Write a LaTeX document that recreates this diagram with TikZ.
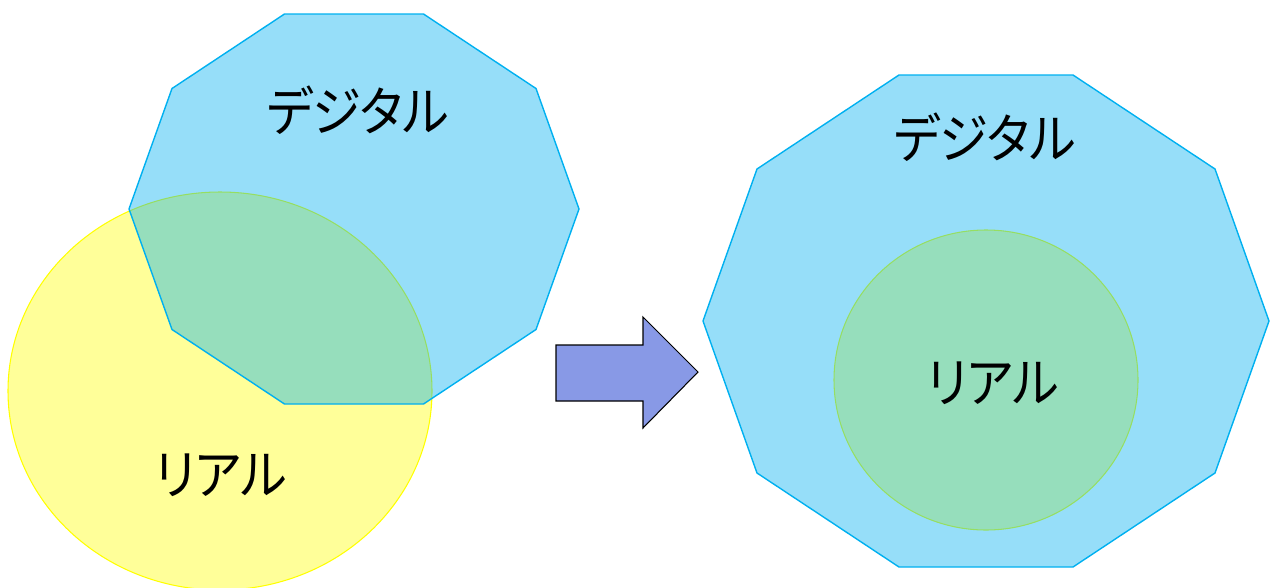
\documentclass[tikz,border=0pt]{standalone}
\usepackage{fontspec}
\newfontfamily\jpfont[RawFeature=+palt, FakeStretch=0.92]{Noto Sans CJK JP}
\usepackage{tikz}

\definecolor{digiblue}{HTML}{00B0F0}
\definecolor{realyellow}{HTML}{FFFF00}
\definecolor{realfill}{HTML}{FFFF99}
\definecolor{arrowblue}{HTML}{8899E6}

\tikzset{
  digital/.style={draw=digiblue, line width=0.8pt, fill=digiblue, fill opacity=0.41},
  real/.style={draw=realyellow, line width=0.6pt, fill=realfill},
  label/.style={font=\jpfont\fontsize{30.5}{36}\selectfont, text=black, inner sep=0pt}
}

\begin{document}
\begin{tikzpicture}[x=0.2mm,y=-0.2mm]
\useasboundingbox (0,0) rectangle (1280,588);
% before
\draw[real] (220,391) ellipse [x radius=212, y radius=199];
\draw[digital] (579,209) -- (536,88.5) -- (423.5,14) -- (284.5,14) -- (172,88.5)
  -- (129,209) -- (172,329.5) -- (284.5,404) -- (423.5,404) -- (536,329.5) -- cycle;
\node[label] (digiL) at (358,110) {デジタル};
\node[label] (realL) at (221,475) {リアル};
% arrow
\draw[fill=arrowblue, line width=0.6pt, line join=miter] (556,345) -- (643,345) -- (643,317)
  -- (698,372) -- (643,428) -- (643,401) -- (556,401) -- cycle;
% after
\draw[real] (986,380) ellipse [x radius=152, y radius=150];
\draw[digital] (1269,321) -- (1215,169) -- (1073,75) -- (899,75) -- (757,169)
  -- (703,321) -- (757,473) -- (899,567) -- (1073,567) -- (1215,473) -- cycle;
\node[label] (digiR) at (985,137) {デジタル};
\node[label] (realR) at (993,383) {リアル};
\end{tikzpicture}
\end{document}
